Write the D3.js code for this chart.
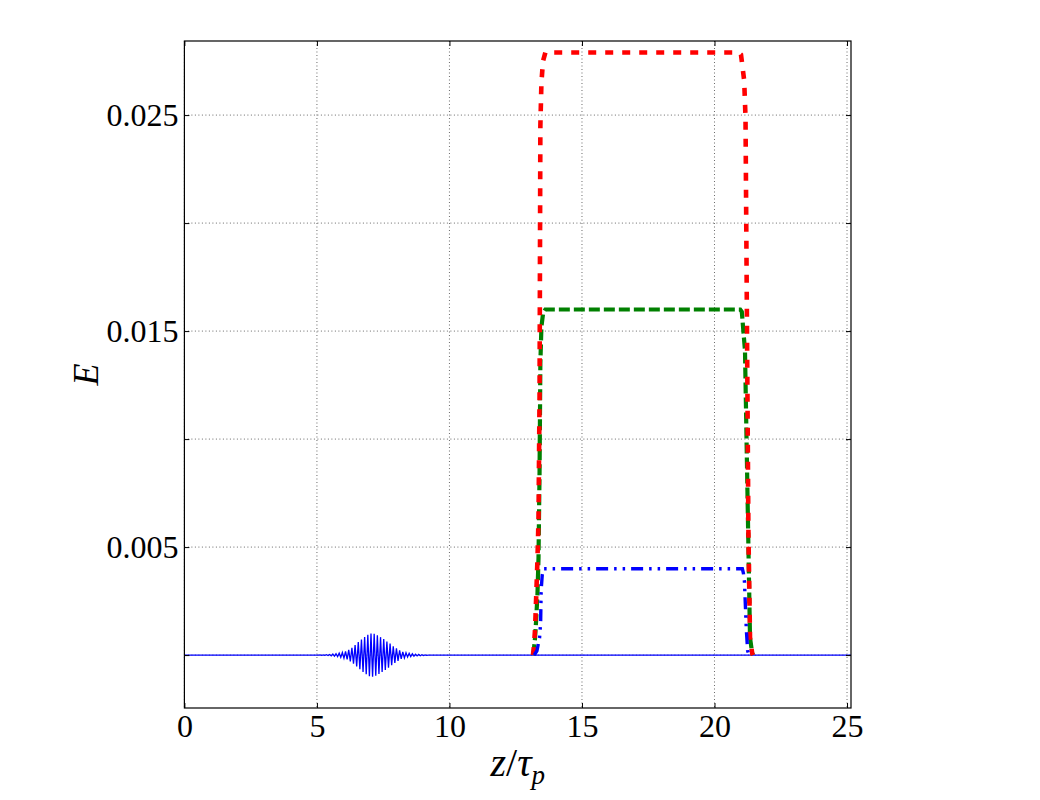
<!DOCTYPE html>
<html>
<head>
<meta charset="utf-8">
<title>E vs z/tau_p</title>
<script src="https://d3js.org/d3.v7.min.js"></script>
<style>
  body { margin: 0; background: #fff; }
  svg text { font-family: "Liberation Serif", "DejaVu Serif", serif !important; }
</style>
</head>
<body>
<script>
// axis ticks
const xTicks = [0, 5, 10, 15, 20, 25];
const yTicks = [0, 0.005, 0.010, 0.015, 0.020, 0.025];
const yLabelled = [0.005, 0.015, 0.025];

// thin blue line: flat baseline with a wave packet around z = 7
const solidZ = [0, 5.00, 5.06, 5.12, 5.18, 5.24, 5.30, 5.36, 5.42, 5.48, 5.54, 5.60, 5.66, 5.72, 5.78, 5.84,
  5.90, 5.96, 6.02, 6.08, 6.14, 6.20, 6.26, 6.32, 6.38, 6.44, 6.50, 6.56, 6.62, 6.68, 6.74, 6.80,
  6.86, 6.92, 6.98, 7.04, 7.10, 7.16, 7.22, 7.28, 7.34, 7.40, 7.46, 7.52, 7.58, 7.64, 7.70, 7.76,
  7.82, 7.88, 7.94, 8.00, 8.06, 8.12, 8.18, 8.24, 8.30, 8.36, 8.42, 8.48, 8.54, 8.60, 8.66, 8.72,
  8.78, 8.84, 8.90, 8.96, 9.02, 9.08, 9.14, 9.20, 25.15];
const solidE = [0, 0, -0.000005, 0.000007, -0.00001, 0.00001, -0.000012, 0.000015, -0.00002, 0.000027,
  -0.000035, 0.000045, -0.000052, 0.00006, -0.00007, 0.000085, -0.0001, 0.00012, -0.00014, 0.00017,
  -0.0002, 0.00024, -0.00029, 0.00034, -0.0004, 0.00046, -0.00053, 0.0006, -0.00066, 0.00072,
  -0.00078, 0.00084, -0.00089, 0.00094, -0.00098, 0.001, -0.001, 0.00099, -0.00096, 0.00092,
  -0.00088, 0.00083, -0.00078, 0.00074, -0.00069, 0.00063, -0.00058, 0.00053, -0.00047, 0.00041,
  -0.00036, 0.00031, -0.00027, 0.00022, -0.00018, 0.00015, -0.00013, 0.00011, -0.00009, 0.00008,
  -0.00007, 0.00006, -0.00005, 0.00004, -0.00004, 0.00003, -0.00003, 0.00002, -0.00002, 0.00001,
  -0.00001, 0, 0];

// red dotted plateau
const redZ = [13.15, 13.18, 13.23, 13.27, 13.32, 13.36, 13.40, 13.43, 13.47, 13.53, 13.62, 13.8,
  20.9, 21.0, 21.05, 21.12, 21.17, 21.28, 21.34, 21.42, 21.45];
const redE = [0, 0.0003, 0.0012, 0.0026, 0.0044, 0.0063, 0.012, 0.0245, 0.0265, 0.0275, 0.0279, 0.0279,
  0.0279, 0.0278, 0.0273, 0.0266, 0.0249, 0.0057, 0.0008, 0.0001, 0];

// green dashed plateau
const greenZ = [13.15, 13.18, 13.23, 13.27, 13.32, 13.36, 13.40, 13.43, 13.47, 13.53, 13.62, 13.8,
  20.9, 20.97, 21.03, 21.09, 21.15, 21.28, 21.34, 21.42, 21.45];
const greenE = [0, 0.0002, 0.0008, 0.0016, 0.0028, 0.0045, 0.0085, 0.0135, 0.0152, 0.0158, 0.016, 0.016,
  0.016, 0.016, 0.0159, 0.015, 0.0141, 0.005, 0.0008, 0.0001, 0];

// blue dash-dot plateau
const dashDotZ = [13.2, 13.3, 13.4, 13.44, 13.46, 13.5, 13.56, 13.7,
  20.95, 21.05, 21.09, 21.13, 21.2, 21.25, 21.3];
const dashDotE = [0, 0.0002, 0.0008, 0.0015, 0.003, 0.0037, 0.004, 0.004,
  0.004, 0.004, 0.0038, 0.0034, 0.0012, 0.0002, 0];

const width = 1040, height = 800;
const plotLeft = 184.4, plotRight = 851, plotTop = 41, plotBottom = 708;
const serif = '"Liberation Serif", "DejaVu Serif", serif';

const svg = d3.select("body").append("svg")
  .attr("width", width)
  .attr("height", height);

const x = d3.scaleLinear().domain([0, 25.15]).range([plotLeft, plotRight]);
const y = d3.scaleLinear().domain([-0.00245, 0.02843]).range([plotBottom, plotTop]);

// dotted grid
const grid = svg.append("g")
  .attr("stroke", "#444")
  .attr("stroke-width", 0.8)
  .attr("stroke-dasharray", "1,2.5");
grid.selectAll(".vg").data(xTicks).enter().append("line")
  .attr("x1", d => x(d)).attr("x2", d => x(d))
  .attr("y1", plotTop).attr("y2", plotBottom);
grid.selectAll(".hg").data(yTicks).enter().append("line")
  .attr("x1", plotLeft).attr("x2", plotRight)
  .attr("y1", d => y(d)).attr("y2", d => y(d));

// lines
const line = (zs, es) => d3.line()
  .x(i => x(zs[i]))
  .y(i => y(es[i]))(d3.range(zs.length));

const plot = svg.append("g").attr("fill", "none");

plot.append("path")
  .attr("d", line(solidZ, solidE))
  .attr("stroke", "#0000ff")
  .attr("stroke-width", 1.3);

plot.append("path")
  .attr("d", line(greenZ, greenE))
  .attr("stroke", "#008000")
  .attr("stroke-width", 4.2)
  .attr("stroke-dasharray", "11,4");

plot.append("path")
  .attr("d", line(redZ, redE))
  .attr("stroke", "#ff0000")
  .attr("stroke-width", 4.6)
  .attr("stroke-dasharray", "8,9");

plot.append("path")
  .attr("d", line(dashDotZ, dashDotE))
  .attr("stroke", "#0000ff")
  .attr("stroke-width", 3.4)
  .attr("stroke-dasharray", "12,6,2.5,6,2.5,6");

// axes with inward ticks
svg.append("g")
  .attr("transform", `translate(0,${plotBottom})`)
  .call(d3.axisBottom(x).tickValues(xTicks).tickSizeInner(-5).tickSizeOuter(0)
    .tickPadding(6).tickFormat(d3.format("d")))
  .call(g => g.select(".domain").remove())
  .call(g => g.selectAll("text").style("font-family", serif).attr("font-size", 32).attr("fill", "#000"));

svg.append("g")
  .attr("transform", `translate(0,${plotTop})`)
  .call(d3.axisTop(x).tickValues(xTicks).tickSizeInner(-5).tickSizeOuter(0).tickFormat(""))
  .call(g => g.select(".domain").remove());

svg.append("g")
  .attr("transform", `translate(${plotLeft},0)`)
  .call(d3.axisLeft(y).tickValues(yTicks).tickSizeInner(-5).tickSizeOuter(0)
    .tickPadding(6)
    .tickFormat(d => yLabelled.some(v => Math.abs(v - d) < 1e-9) ? d3.format(".3f")(d) : ""))
  .call(g => g.select(".domain").remove())
  .call(g => g.selectAll("text").style("font-family", serif).attr("font-size", 32).attr("fill", "#000"));

svg.append("g")
  .attr("transform", `translate(${plotRight},0)`)
  .call(d3.axisRight(y).tickValues(yTicks).tickSizeInner(-5).tickSizeOuter(0).tickFormat(""))
  .call(g => g.select(".domain").remove());

// frame
svg.append("rect")
  .attr("x", plotLeft).attr("y", plotTop)
  .attr("width", plotRight - plotLeft).attr("height", plotBottom - plotTop)
  .attr("fill", "none")
  .attr("stroke", "#000")
  .attr("stroke-width", 1.2);

// axis labels
svg.append("text")
  .attr("transform", `translate(${98},${(plotTop + plotBottom) / 2}) rotate(-90)`)
  .attr("text-anchor", "middle")
  .attr("font-size", 36)
  .attr("font-style", "italic")
  .style("font-family", serif)
  .text("E");

const xl = svg.append("text")
  .attr("x", (plotLeft + plotRight) / 2)
  .attr("y", 776)
  .attr("text-anchor", "middle")
  .attr("font-size", 40)
  .attr("font-style", "italic")
  .style("font-family", serif);
xl.append("tspan").text("z");
xl.append("tspan").attr("font-style", "normal").text("/");
xl.append("tspan").text("τ");
xl.append("tspan").attr("font-size", 27).attr("dy", 8).text("p");
</script>
</body>
</html>
